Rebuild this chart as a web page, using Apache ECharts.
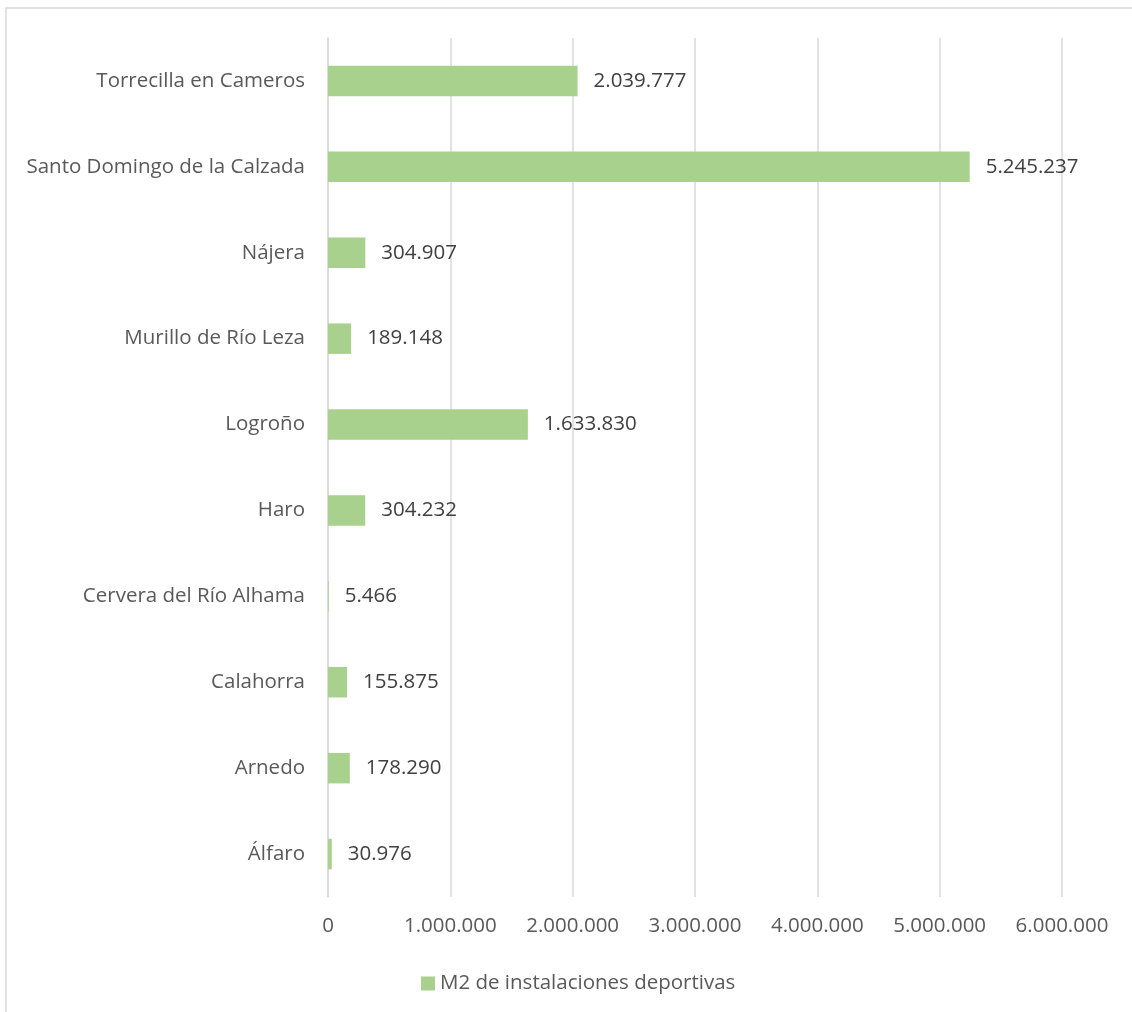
<!DOCTYPE html>
<html>
<head>
<meta charset="utf-8">
<script src="https://cdn.jsdelivr.net/npm/echarts@6/dist/echarts.min.js"></script>
<style>
  html, body { margin: 0; padding: 0; background: #fff; }
  #chart { width: 1132px; height: 1012px; }
</style>
</head>
<body>
<div id="chart"></div>
<script>
  // municipios, de abajo hacia arriba (como en el eje)
  let municipios = ['Álfaro', 'Arnedo', 'Calahorra', 'Cervera del Río Alhama', 'Haro',
    'Logroño', 'Murillo de Río Leza', 'Nájera', 'Santo Domingo de la Calzada', 'Torrecilla en Cameros'];
  let m2Instalaciones = [30976, 178290, 155875, 5466, 304232, 1633830, 189148, 304907, 5245237, 2039777];
  let serieNombre = 'M2 de instalaciones deportivas';
  let ejeMin = 0, ejeMax = 6000000, ejePaso = 1000000;

  // 1234567 -> 1.234.567
  let fmt = function (v) {
    return String(Math.round(v)).replace(/\B(?=(\d{3})+(?!\d))/g, '.');
  };

  let chart = echarts.init(document.getElementById('chart'));
  let fuente = '"Open Sans", sans-serif';
  let tam = 20.5;
  chart.setOption({
    backgroundColor: '#fff',
    animation: false,
    textStyle: { fontFamily: fuente },
    graphic: [{
      type: 'rect',
      shape: { x: 6, y: 8, width: 1200, height: 1100 },
      style: { fill: 'none', stroke: '#d9d9d9', lineWidth: 1.5 },
      silent: true
    }],
    grid: { left: 328, right: 70, top: 38, bottom: 115, containLabel: false },
    legend: {
      left: 416,
      top: 968,
      icon: 'rect',
      itemWidth: 14,
      itemHeight: 14,
      itemGap: 6,
      textStyle: { color: '#595959', fontSize: tam, fontFamily: fuente },
      data: [serieNombre]
    },
    xAxis: {
      type: 'value',
      min: ejeMin,
      max: ejeMax,
      interval: ejePaso,
      axisLine: { show: false },
      axisTick: { show: false },
      splitLine: { lineStyle: { color: '#d9d9d9', width: 1.5 } },
      axisLabel: { color: '#595959', fontSize: tam, margin: 19, formatter: fmt }
    },
    yAxis: {
      type: 'category',
      data: municipios,
      axisLine: { show: true, lineStyle: { color: '#d9d9d9', width: 1.5 } },
      axisTick: { show: false },
      axisLabel: { color: '#595959', fontSize: tam, margin: 23 }
    },
    series: [{
      name: serieNombre,
      type: 'bar',
      data: m2Instalaciones,
      barWidth: '35.5%',
      itemStyle: { color: '#a9d18e' },
      label: {
        show: true,
        position: 'right',
        distance: 16,
        color: '#404040',
        fontSize: tam,
        fontFamily: fuente,
        formatter: function (p) { return fmt(p.value); }
      }
    }]
  });
</script>
</body>
</html>
